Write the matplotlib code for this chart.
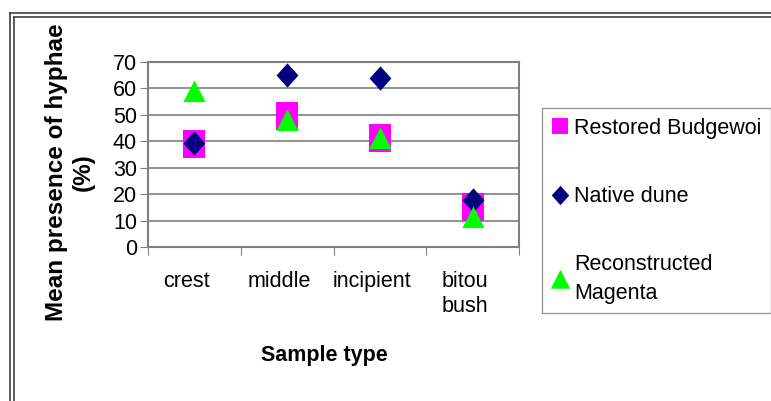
import matplotlib
matplotlib.use("Agg")
import matplotlib.pyplot as plt
from matplotlib.lines import Line2D
from matplotlib.transforms import ScaledTranslation
import numpy as np

plt.rcParams['font.family'] = ['Liberation Sans', 'DejaVu Sans']

categories = ["crest", "middle", "incipient", "bitou\nbush"]
restored_budgewoi = [38.8, 49.5, 41.4, 15]
native_dune = [39.2, 65.2, 63.9, 17.9]
reconstructed_magenta = [59, 47.9, 41.4, 11.2]
yticks = [0, 10, 20, 30, 40, 50, 60, 70]
series_names = ['Restored Budgewoi', 'Native dune', 'Reconstructed\nMagenta']

MAG = '#ff00ff'
NAVY = '#000080'
LIME = '#00ff00'

square_m = [(-0.81, -1), (0.81, -1), (0.81, 1), (-0.81, 1), (-0.81, -1)]
diamond_m = [(0, 1), (0.9, 0), (0, -1), (-0.9, 0), (0, 1)]
tri_m = [(-1, -0.95), (1, -0.95), (0, 1), (-1, -0.95)]

fig = plt.figure(figsize=(7.71, 4.01), dpi=100)
ax = fig.add_axes([148/771, 1-247/401, (519-148)/771, (247-62)/401])

x = np.arange(len(categories))
ax.plot(x, restored_budgewoi, linestyle='none', marker=square_m, markersize=19.5,
        color=MAG, markeredgewidth=0, zorder=3)
ax.plot(x, native_dune, linestyle='none', marker=diamond_m, markersize=17.5,
        color=NAVY, markeredgewidth=0, zorder=4)
ax.plot(x, reconstructed_magenta, linestyle='none', marker=tri_m, markersize=16,
        color=LIME, markeredgewidth=0, zorder=5)

ax.set_xlim(-0.5, len(categories) - 0.5)
ax.set_ylim(0, 70)
ax.set_yticks(yticks)
ax.set_yticklabels([str(v) for v in yticks], fontsize=15.5)
ax.yaxis.grid(True, color='#808080', linewidth=1.2)
ax.set_axisbelow(True)

ax.set_xticks(np.arange(-0.5, len(categories), 1.0))
ax.set_xticklabels([])
ax.set_xticks(x, minor=True)
ax.set_xticklabels(categories, minor=True, fontsize=15.5, va='top', ha='center',
                   linespacing=1.3)
ax.tick_params(axis='x', which='minor', length=0, pad=17)
ax.tick_params(axis='x', which='major', length=6, direction='out', color='#808080')
ax.tick_params(axis='y', length=6, direction='out', color='#808080', pad=2)
for lab in ax.get_xticklabels(minor=True):
    lab.set_transform(lab.get_transform() + ScaledTranslation(-8/100, 0, fig.dpi_scale_trans))

for s in ax.spines.values():
    s.set_color('#808080')
    s.set_linewidth(1.5)

fig.text(324/771, 1-355/401, "Sample type", fontsize=15.5, fontweight='bold',
         ha='center', va='center')
fig.text(70/771, 1-172/401, "Mean presence of hyphae\n(%)", fontsize=17.5,
         fontweight='bold', rotation=90, ha='center', va='center', linespacing=1.2,
         multialignment='center')

handles = [
    Line2D([], [], linestyle='none', marker='s', markersize=11, color=MAG, markeredgewidth=0),
    Line2D([], [], linestyle='none', marker=diamond_m, markersize=14, color=NAVY, markeredgewidth=0),
    Line2D([], [], linestyle='none', marker=tri_m, markersize=14, color=LIME, markeredgewidth=0),
]
leg = fig.legend(handles, series_names, loc='upper left',
                 bbox_to_anchor=(542/771, 1-108/401),
                 fontsize=15.5, frameon=True, fancybox=False, edgecolor='#808080',
                 handlelength=0.8, handletextpad=0.25, labelspacing=2.2,
                 borderpad=0.45, borderaxespad=0)
for t in leg.get_texts():
    t.set_linespacing(1.45)
leg.get_frame().set_linewidth(1.0)

# outer chart frame (double line) on left and top
for xo, yo in ((10, 13), (14, 17)):
    fig.add_artist(Line2D([xo/771, xo/771], [0, 1-yo/401],
                          transform=fig.transFigure, color='#404040', linewidth=1.2))
    fig.add_artist(Line2D([xo/771, 1], [1-yo/401, 1-yo/401],
                          transform=fig.transFigure, color='#404040', linewidth=1.2))

fig.savefig("out.png", dpi=100)
